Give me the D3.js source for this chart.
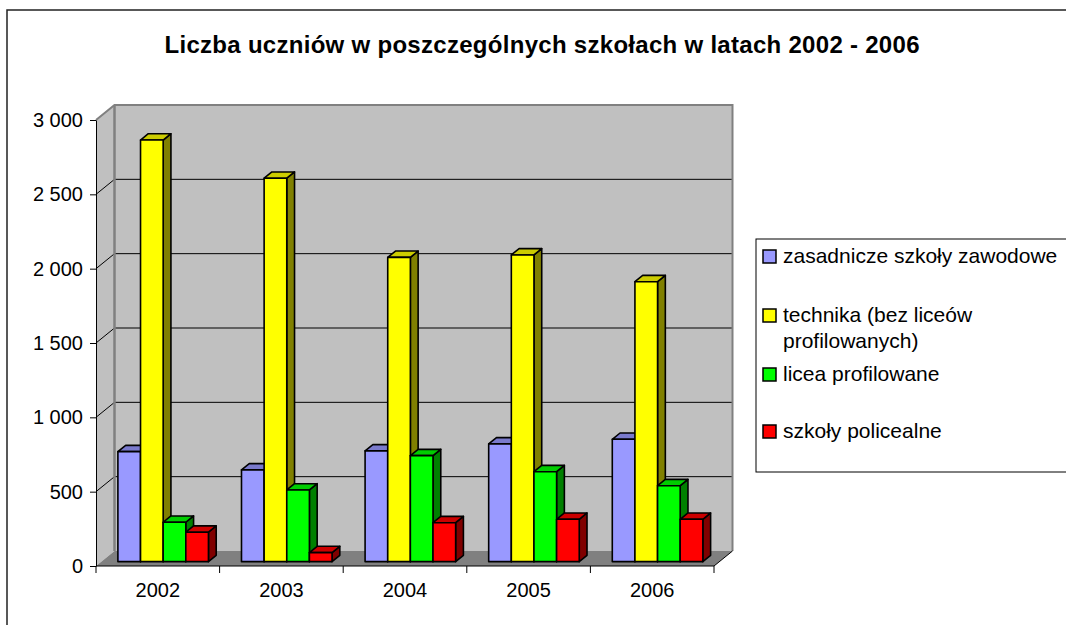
<!DOCTYPE html>
<html>
<head>
<meta charset="utf-8">
<script src="https://cdn.jsdelivr.net/npm/d3@7"></script>
<style>
  body { margin: 0; background: #fff; }
  svg { display: block; font-family: "Liberation Sans", Arial, sans-serif; }
</style>
</head>
<body>
<div id="chart"></div>
<script>
// dane
var years = ["2002", "2003", "2004", "2005", "2006"];
var seriesNames = ["zasadnicze szkoły zawodowe", "technika (bez liceów profilowanych)", "licea profilowane", "szkoły policealne"];
var zasadnicze = [740, 617, 745, 792, 823];
var technika = [2836, 2579, 2047, 2063, 1883];
var licea = [265, 482, 713, 605, 511];
var policealne = [198, 61, 262, 285, 285];
var yTicks = [0, 500, 1000, 1500, 2000, 2500, 3000];
var title = "Liczba uczniów w poszczególnych szkołach w latach 2002 - 2006";

var seriesValues = [zasadnicze, technika, licea, policealne];
var colors = ["#9999ff", "#ffff00", "#00ff00", "#ff0000"];

var W = 1066, H = 625,
    plotL = 96, plotR = 714, plotT = 120, plotB = 566,
    DX = 18.5, DY = 15,          // glebokosc sceny 3D
    zFront = 0.29, zBack = 0.71; // glebokosc slupkow

var svg = d3.select("#chart").append("svg")
    .attr("width", W)
    .attr("height", H);

// ramka wykresu
svg.append("rect")
    .attr("x", 7).attr("y", 10)
    .attr("width", 1100).attr("height", 700)
    .style("fill", "#fff")
    .style("stroke", "#222")
    .style("stroke-width", 1.5);

svg.append("text")
    .attr("x", 542).attr("y", 53)
    .attr("textLength", 755)
    .attr("lengthAdjust", "spacing")
    .style("text-anchor", "middle")
    .style("font-weight", "bold")
    .style("font-size", "24px")
    .text(title);

var x0 = d3.scaleBand().domain(years).range([plotL, plotR]);
var x1 = d3.scaleBand().domain(d3.range(seriesNames.length))
    .range([0, x0.bandwidth()]).paddingInner(0).paddingOuter(0.73);
var y = d3.scaleLinear().domain([0, 3000]).range([plotB, plotT]);

function P(x, yy, z) {
    return [x + z * DX, yy - z * DY];
}
function poly(pts) {
    return pts.map(function (p) { return p[0] + "," + p[1]; }).join(" ");
}

// sciany
var y0 = y(0), yMax = y(3000);
svg.append("polygon")
    .attr("points", poly([P(plotL, y0, 0), P(plotL, yMax, 0), P(plotL, yMax, 1), P(plotL, y0, 1)]))
    .style("fill", "#c0c0c0");
svg.append("polygon")
    .attr("points", poly([P(plotL, y0, 1), P(plotL, yMax, 1), P(plotR, yMax, 1), P(plotR, y0, 1)]))
    .style("fill", "#c0c0c0");
svg.append("polygon")
    .attr("points", poly([P(plotL, y0, 0), P(plotR, y0, 0), P(plotR, y0, 1), P(plotL, y0, 1)]))
    .style("fill", "#808080");

// linie siatki
var grid = yTicks.filter(function (d) { return d > 0 && d < 3000; });
svg.selectAll(".gridBack")
    .data(grid)
    .enter().append("line")
    .attr("class", "gridBack")
    .attr("x1", plotL + DX).attr("x2", plotR + DX)
    .attr("y1", function (d) { return y(d) - DY; })
    .attr("y2", function (d) { return y(d) - DY; })
    .style("stroke", "#000").style("stroke-width", 1);
svg.selectAll(".gridSide")
    .data(grid)
    .enter().append("line")
    .attr("class", "gridSide")
    .attr("x1", plotL).attr("x2", plotL + DX)
    .attr("y1", function (d) { return y(d); })
    .attr("y2", function (d) { return y(d) - DY; })
    .style("stroke", "#000").style("stroke-width", 1);

// krawedzie scian
svg.append("polyline")
    .attr("points", poly([P(plotL, yMax, 0), P(plotL, yMax, 1), P(plotR, yMax, 1), P(plotR, y0, 1)]))
    .style("fill", "none").style("stroke", "#808080").style("stroke-width", 2);
svg.append("line")
    .attr("x1", plotL + DX).attr("x2", plotL + DX)
    .attr("y1", yMax - DY).attr("y2", y0 - DY)
    .style("stroke", "#808080").style("stroke-width", 2.5);
svg.append("line")
    .attr("x1", plotR).attr("y1", y0)
    .attr("x2", plotR + DX).attr("y2", y0 - DY)
    .style("stroke", "#000").style("stroke-width", 1);

// slupki
function shade(c, k) {
    var col = d3.rgb(c);
    return d3.rgb(col.r * k, col.g * k, col.b * k).toString();
}

years.forEach(function (year, i) {
    seriesValues.forEach(function (vals, s) {
        var v = vals[i],
            xl = x0(year) + x1(s),
            xr = xl + x1.bandwidth(),
            yt = y(v);
        var g = svg.append("g").attr("class", "bar");
        g.append("polygon")
            .attr("points", poly([P(xr, yt, zFront), P(xr, yt, zBack), P(xr, y0, zBack), P(xr, y0, zFront)]))
            .style("fill", shade(colors[s], 0.5));
        g.append("polygon")
            .attr("points", poly([P(xl, yt, zFront), P(xl, yt, zBack), P(xr, yt, zBack), P(xr, yt, zFront)]))
            .style("fill", shade(colors[s], 0.8));
        var a = P(xl, yt, zFront), b = P(xr, y0, zFront);
        g.append("rect")
            .attr("x", a[0]).attr("y", a[1])
            .attr("width", b[0] - a[0]).attr("height", b[1] - a[1])
            .style("fill", colors[s]);
        g.selectAll("polygon, rect")
            .style("stroke", "#000")
            .style("stroke-width", 1.6)
            .style("stroke-linejoin", "round");
    });
});

// os Y
var fmt = d3.formatLocale({decimal: ",", thousands: " ", grouping: [3], currency: ["", ""]}).format(",d");
var yAxis = svg.append("g")
    .attr("transform", "translate(" + plotL + ",0)")
    .call(d3.axisLeft(y).tickValues(yTicks).tickFormat(fmt).tickSize(6).tickSizeOuter(0).tickPadding(7));
yAxis.selectAll("text").style("font-size", "20px").style("fill", "#000").style("font-family", "'Liberation Sans', Arial, sans-serif");
yAxis.selectAll("line, path").style("stroke", "#000");

// os X
svg.append("line")
    .attr("x1", plotL).attr("x2", plotR)
    .attr("y1", y0).attr("y2", y0)
    .style("stroke", "#000");
svg.selectAll(".xTick")
    .data(years.concat(["end"]))
    .enter().append("line")
    .attr("class", "xTick")
    .attr("x1", function (d) { return d === "end" ? plotR : x0(d); })
    .attr("x2", function (d) { return d === "end" ? plotR : x0(d); })
    .attr("y1", y0).attr("y2", y0 + 7)
    .style("stroke", "#000");
svg.selectAll(".xLabel")
    .data(years)
    .enter().append("text")
    .attr("class", "xLabel")
    .attr("x", function (d) { return x0(d) + x0.bandwidth() / 2; })
    .attr("y", 597)
    .style("text-anchor", "middle")
    .style("font-size", "20px")
    .text(function (d) { return d; });

// legenda
var legend = svg.append("g").attr("class", "legend");
legend.append("rect")
    .attr("x", 756).attr("y", 239)
    .attr("width", 400).attr("height", 233)
    .style("fill", "#fff").style("stroke", "#000");

var legendLines = [["zasadnicze szkoły zawodowe"], ["technika (bez liceów", "profilowanych)"], ["licea profilowane"], ["szkoły policealne"]];
var legendY = [263, 322, 381, 438];

legendLines.forEach(function (lines, i) {
    legend.append("rect")
        .attr("x", 763).attr("y", legendY[i] - 13)
        .attr("width", 13).attr("height", 13)
        .style("fill", colors[i])
        .style("stroke", "#000").style("stroke-width", 1.5);
    lines.forEach(function (t, j) {
        legend.append("text")
            .attr("x", 783).attr("y", legendY[i] + j * 25.5)
            .style("font-size", "21px")
            .text(t);
    });
});
</script>
</body>
</html>
